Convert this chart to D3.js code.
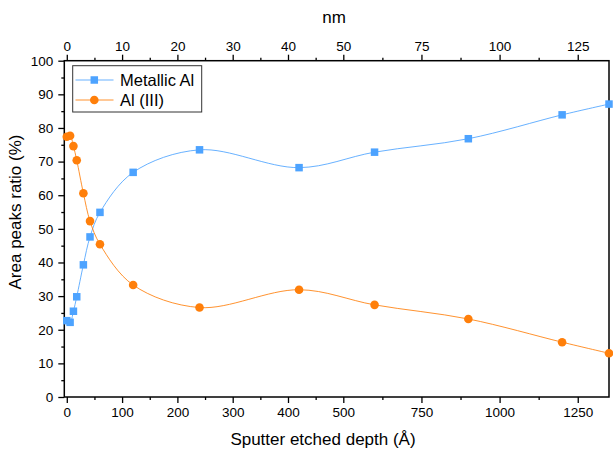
<!DOCTYPE html>
<html>
<head>
<meta charset="utf-8">
<script src="https://cdn.jsdelivr.net/npm/d3@7"></script>
<style>
  html, body { margin: 0; padding: 0; background: #fff; }
  svg { display: block; font-family: "Liberation Sans", Arial, sans-serif; }
</style>
</head>
<body>
<svg id="chart" width="613" height="455"></svg>
<script>
// ---- data ----
const depth = [0, 6, 12, 18, 30, 42, 60, 120, 240, 420, 600, 900, 1200, 1350]; // Å
const metallicAl = [22.7, 22.2, 25.5, 29.8, 39.3, 47.6, 54.9, 66.8, 73.5, 68.2, 72.8, 76.8, 83.9, 87.1];
const al3 = [77.4, 77.7, 74.6, 70.4, 60.6, 52.3, 45.4, 33.3, 26.6, 31.9, 27.4, 23.2, 16.3, 13.0];
const seriesNames = ["Metallic Al", "Al (III)"];
const xTicks = [0, 100, 200, 300, 400, 500, 750, 1000, 1250];
const xMinorTicks = [50, 150, 250, 350, 450, 625, 875, 1125];
const yTicks = [0, 10, 20, 30, 40, 50, 60, 70, 80, 90, 100];
const yMinorTicks = [5, 15, 25, 35, 45, 55, 65, 75, 85, 95];

const colors = { blue: "#4da3ff", orange: "#ff7f0a" };

const svg = d3.select("#chart");
const L = 64.3, R = 609, T = 60.7, B = 397;

// piecewise (broken) x scale as in the reference
const x = d3.scaleLinear().domain([-4.5, 500, 1350]).range([L, 343.3, R]);
const y = d3.scaleLinear().domain([0, 100]).range([B, T]);

const fontTick = "13.5px";

// frame
svg.append("rect").attr("x", L).attr("y", T).attr("width", R - L).attr("height", B - T)
  .attr("fill", "none").attr("stroke", "#000").attr("stroke-width", 1.5);

// bottom axis
const gB = svg.append("g").attr("transform", `translate(0,${B})`);
gB.call(d3.axisBottom(x).tickValues(xTicks).tickSize(6).tickPadding(4).tickFormat(d3.format("d")));
gB.append("g").call(d3.axisBottom(x).tickValues(xMinorTicks).tickSize(3).tickFormat(""));
// top axis (nm)
const gT = svg.append("g").attr("transform", `translate(0,${T})`);
gT.call(d3.axisTop(x).tickValues(xTicks).tickSize(6).tickPadding(4).tickFormat(d => d / 10));
gT.append("g").call(d3.axisTop(x).tickValues(xMinorTicks).tickSize(3).tickFormat(""));
// left axis
const gL = svg.append("g").attr("transform", `translate(${L},0)`);
gL.call(d3.axisLeft(y).tickValues(yTicks).tickSize(6).tickPadding(5));
gL.append("g").call(d3.axisLeft(y).tickValues(yMinorTicks).tickSize(3).tickFormat(""));

svg.selectAll(".domain").remove();
svg.selectAll(".tick line").attr("stroke", "#000").attr("stroke-width", 1.3);
svg.selectAll(".tick text").attr("fill", "#000").style("font-size", fontTick)
  .style("font-family", "'Liberation Sans', Arial, sans-serif");

// titles
svg.append("text").attr("x", 323).attr("y", 445).attr("text-anchor", "middle")
  .style("font-size", "17px").text("Sputter etched depth (Å)");
svg.append("text").attr("x", 334).attr("y", 23).attr("text-anchor", "middle")
  .style("font-size", "17px").text("nm");
svg.append("text").attr("transform", "translate(21,212) rotate(-90)").attr("text-anchor", "middle")
  .style("font-size", "17px").text("Area peaks ratio (%)");

// lines
const line = d3.line().x(d => x(d[0])).y(d => y(d[1])).curve(d3.curveCatmullRom.alpha(0.5));
const blueData = depth.map((d, i) => [d, metallicAl[i]]);
const orangeData = depth.map((d, i) => [d, al3[i]]);

svg.append("path").datum(blueData).attr("d", line).attr("fill", "none")
  .attr("stroke", colors.blue).attr("stroke-width", 1).attr("stroke-opacity", 0.85);
svg.append("path").datum(orangeData).attr("d", line).attr("fill", "none")
  .attr("stroke", colors.orange).attr("stroke-width", 1).attr("stroke-opacity", 0.85);

// markers
const sq = 7.5;
svg.append("g").selectAll("rect").data(blueData).join("rect")
  .attr("x", d => x(d[0]) - sq / 2).attr("y", d => y(d[1]) - sq / 2)
  .attr("width", sq).attr("height", sq).attr("fill", colors.blue);
svg.append("g").selectAll("circle").data(orangeData).join("circle")
  .attr("cx", d => x(d[0])).attr("cy", d => y(d[1])).attr("r", 4.3).attr("fill", colors.orange);

// legend
const lg = svg.append("g");
lg.append("rect").attr("x", 72.7).attr("y", 65.7).attr("width", 129).attr("height", 46.3)
  .attr("fill", "#fff").attr("stroke", "#333").attr("stroke-width", 1);
[[seriesNames[0], colors.blue, "sq", 80], [seriesNames[1], colors.orange, "c", 100]].forEach(([name, c, m, ly]) => {
  lg.append("line").attr("x1", 75.5).attr("x2", 113.5).attr("y1", ly).attr("y2", ly)
    .attr("stroke", c).attr("stroke-width", 1).attr("stroke-opacity", 0.85);
  if (m === "sq") lg.append("rect").attr("x", 94.3 - sq / 2).attr("y", ly - sq / 2).attr("width", sq).attr("height", sq).attr("fill", c);
  else lg.append("circle").attr("cx", 94.3).attr("cy", ly).attr("r", 4.3).attr("fill", c);
  lg.append("text").attr("x", 120).attr("y", ly).attr("dy", "0.36em").style("font-size", "16.5px").text(name);
});
</script>
</body>
</html>
